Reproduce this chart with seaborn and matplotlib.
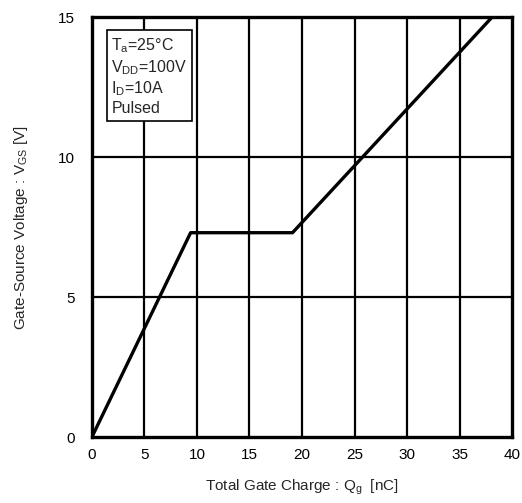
import pandas as pd
import matplotlib
matplotlib.use('Agg')
import matplotlib.pyplot as plt
import seaborn as sns

# gate charge curve
qg = [0, 9.4, 19.1, 38.1]
vgs = [0, 7.3, 7.3, 15]
x_ticks = [0, 5, 10, 15, 20, 25, 30, 35, 40]
y_ticks = [0, 5, 10, 15]

sns.set_style('white')
plt.rcParams['font.family'] = ['Liberation Sans', 'DejaVu Sans']
plt.rcParams['mathtext.fontset'] = 'custom'
plt.rcParams['mathtext.rm'] = 'Liberation Sans'
plt.rcParams['mathtext.it'] = 'Liberation Sans'

df = pd.DataFrame({'Qg': qg, 'VGS': vgs})

fig = plt.figure(figsize=(5.22, 5.03), dpi=100)
ax = fig.add_axes([0.176, 0.131, 0.805, 0.835])

for xv in x_ticks[1:-1]:
    ax.axvline(xv, color='black', lw=1.6, zorder=1)
for yv in y_ticks[1:-1]:
    ax.axhline(yv, color='black', lw=1.6, zorder=1)

sns.lineplot(data=df, x='Qg', y='VGS', color='black', lw=2.4, ax=ax, zorder=3)

ax.set_xlim(0, 40)
ax.set_ylim(0, 15)
ax.set_xticks(x_ticks)
ax.set_yticks(y_ticks)
ax.tick_params(length=0, labelsize=11, colors='black')
ax.tick_params(axis='y', pad=12)
ax.tick_params(axis='x', pad=8)
for s in ax.spines.values():
    s.set_visible(True)
    s.set_color('black')
    s.set_linewidth(2.4)

ax.set_xlabel('Total Gate Charge : Q$_\\mathrm{g}$  [nC]', fontsize=11, labelpad=11)
ax.set_ylabel('Gate-Source Voltage : V$_\\mathrm{GS}$ [V]', fontsize=11, labelpad=20)

ax.text(1.85, 14.3, 'T$_\\mathrm{a}$=25°C\nV$_\\mathrm{DD}$=100V\nI$_\\mathrm{D}$=10A\nPulsed',
        fontsize=11.5, va='top', ha='left', linespacing=1.2, zorder=5,
        bbox=dict(boxstyle='square,pad=0.3', fc='white', ec='black', lw=1.2))

fig.savefig('out.png', dpi=100)
